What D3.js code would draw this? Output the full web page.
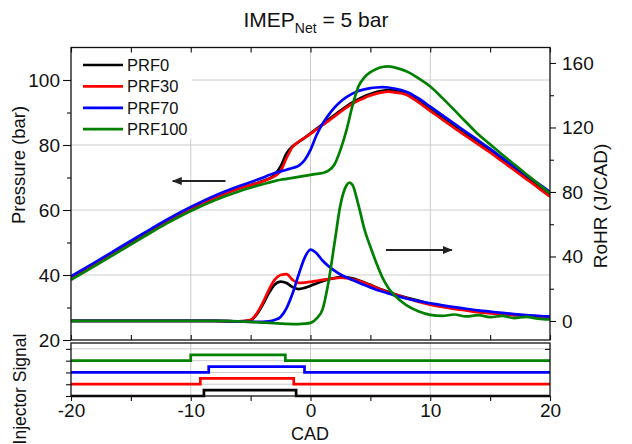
<!DOCTYPE html>
<html><head><meta charset="utf-8">
<script src="https://cdn.jsdelivr.net/npm/d3@7"></script>
<style>
body{margin:0;background:#fff;}
svg{display:block;font-family:"Liberation Sans",Arial,sans-serif;}
</style></head>
<body><svg id="c" width="632" height="444"></svg>
<script>
// ---------- DATA ----------
const seriesNames = ["PRF0","PRF30","PRF70","PRF100"];
const seriesColors = ["#000000","#ff0000","#0000ff","#008000"];

// Pressure (bar) vs CAD
const cadP = [-20,-18,-16,-14,-12,-10,-8,-6,-4,-3,-2.5,-2,-1.5,-1,-0.5,0,0.5,1,1.5,2,2.5,3,3.5,4,4.5,5,5.5,6,6.5,7,8,9,10,11,12,13,14,15,16,17,18,19,20];
const pressPRF0   = [39.2,43.5,47.9,52.3,56.6,60.4,63.8,66.6,68.9,70.8,73.4,77.4,79.6,80.9,82.2,83.6,85.0,86.4,87.8,89.2,90.6,91.9,93.1,94.1,95.0,95.7,96.3,96.7,96.9,96.7,95.8,93.6,90.9,88.3,85.7,83.1,80.6,78.1,75.4,72.7,70.0,67.3,64.5];
const pressPRF30  = [39.2,43.5,47.9,52.3,56.6,60.4,63.8,66.6,68.8,70.4,72.0,76.0,79.4,81.0,82.2,83.4,84.8,86.1,87.4,88.8,90.2,91.5,92.7,93.7,94.5,95.2,95.8,96.2,96.4,96.2,95.5,93.2,90.5,87.9,85.3,82.7,80.2,77.7,75.0,72.3,69.6,66.9,64.1];
const pressPRF70  = [39.6,43.9,48.3,52.7,57.0,60.9,64.4,67.3,69.9,71.4,71.9,72.4,72.9,73.6,75.3,78.5,83.0,86.5,89.2,91.5,93.3,94.7,95.8,96.6,97.1,97.5,97.7,97.8,97.7,97.4,96.4,94.4,91.8,89.2,86.6,84.0,81.4,78.8,76.1,73.4,70.8,68.2,65.6];
const pressPRF100 = [38.5,42.8,47.2,51.6,55.9,59.7,63.0,65.7,67.9,68.9,69.3,69.6,69.9,70.2,70.5,70.8,71.1,71.4,72.1,74.0,78.5,84.5,92.0,98.0,100.8,102.4,103.4,104.0,104.2,103.9,102.7,100.6,98.0,94.5,90.8,87.0,83.3,80.2,77.1,74.1,71.1,68.1,65.1];

// Rate of heat release (J/CAD) vs CAD
const cadR = [-20,-15,-10,-8,-6,-5,-4.5,-4,-3.5,-3,-2.5,-2,-1.5,-1,-0.5,0,0.5,1,1.5,2,2.5,3,3.25,3.5,4,4.5,5,5.5,6,6.5,7,8,9,10,11,12,13,14,15,16,17,18,19,20];
const rohrPRF0   = [0,0,0,0,-0.3,0.5,4,10,17,22.5,24.4,23.5,21,19.8,20.5,21.8,23.3,24.6,25.7,26.6,27.2,27.1,26.8,26.4,25.3,23.9,22.4,20.8,19.3,17.9,16.7,14.6,12.6,10.6,9.1,7.9,6.8,5.8,5.0,4.4,3.8,3.3,2.8,2.4];
const rohrPRF30  = [0,0,0,0,-0.3,0.6,4.5,11,19,25.5,28.5,29,25.5,23.6,23.8,24.3,24.9,25.5,26.0,26.5,26.8,26.6,26.3,25.9,24.9,23.6,22.2,20.6,19.1,17.7,16.5,14.2,12.0,10.1,8.7,7.5,6.5,5.5,4.8,4.2,3.6,3.1,2.7,2.3];
const rohrPRF70  = [0,0,0,0,-0.3,-0.5,-0.6,-0.6,-0.3,0.6,2.5,8,17,28.5,39,44.3,42,37.5,34,31.2,28.8,27,26.2,25.4,23.8,22.3,20.8,19.4,18.3,17.1,15.9,13.9,12.3,11.0,9.7,8.6,7.6,6.6,5.8,5.0,4.3,3.7,3.2,2.7];
const rohrPRF100 = [0,0,0,0,-0.3,-0.6,-0.8,-1,-1.2,-1.4,-1.6,-1.8,-1.9,-1.9,-1.7,-1.2,1.5,7,24,48,72,84,85.8,84.5,72,57,46,36,27,20.5,16,9.8,6.0,3.8,3.1,4.0,2.8,3.6,2.4,3.2,1.8,2.6,1.4,0.9];

// Injector signal: start/end of the pulse (CAD) and channel baseline level
const injStart = [-8.9,-9.2,-8.5,-10.0];
const injEnd   = [-1.2,-1.4,-0.5,-2.1];
const injLevel = [0,1,2,3];
const injHigh  = 0.5;

// Axis ticks
const xTicks = [-20,-10,0,10,20];
const xMinor = [-15,-5,5,15];
const pTicks = [20,40,60,80,100];
const pMinor = [30,50,70,90];
const rTicks = [0,40,80,120,160];
const rMinor = [20,60,100,140];

// ---------- DRAW ----------
const svg = d3.select("#c");
const L=71, R=550, T=47.5, B=340, T2=343, B2=396;
const x  = d3.scaleLinear([-20,20],[L,R]);
const yP = d3.scaleLinear([20,110],[B,T]);
const yR = d3.scaleLinear([-11.8,169.6],[B,T]);
const yI = d3.scaleLinear([0,4.5],[B2,T2]);
const grid = "#cccccc";

// gridlines
const g0 = svg.append("g").attr("stroke",grid).attr("stroke-width",1);
[40,60,80,100].forEach(v=>g0.append("line").attr("x1",L).attr("x2",R).attr("y1",yP(v)).attr("y2",yP(v)));
[-10,0,10].forEach(v=>{
  g0.append("line").attr("x1",x(v)).attr("x2",x(v)).attr("y1",T).attr("y2",B);
  g0.append("line").attr("x1",x(v)).attr("x2",x(v)).attr("y1",T2).attr("y2",B2);
});
[1,2,3,4].forEach(v=>g0.append("line").attr("x1",L).attr("x2",R).attr("y1",yI(v)).attr("y2",yI(v)));

// clip
svg.append("clipPath").attr("id","clipTop").append("rect").attr("x",L).attr("y",T).attr("width",R-L).attr("height",B-T);

const pressData = [pressPRF0,pressPRF30,pressPRF70,pressPRF100];
const rohrData  = [rohrPRF0,rohrPRF30,rohrPRF70,rohrPRF100];
const lineP = d3.line().x(d=>x(d[0])).y(d=>yP(d[1])).curve(d3.curveMonotoneX);
const lineR = d3.line().x(d=>x(d[0])).y(d=>yR(d[1])).curve(d3.curveMonotoneX);
const plot = svg.append("g").attr("clip-path","url(#clipTop)");
for (let i=0;i<4;i++){
  plot.append("path").datum(cadP.map((c,k)=>[c,pressData[i][k]]))
    .attr("d",lineP).attr("fill","none").attr("stroke",seriesColors[i]).attr("stroke-width",2.7).attr("stroke-linejoin","round");
}
for (let i=0;i<4;i++){
  plot.append("path").datum(cadR.map((c,k)=>[c,rohrData[i][k]]))
    .attr("d",lineR).attr("fill","none").attr("stroke",seriesColors[i]).attr("stroke-width",2.7).attr("stroke-linejoin","round");
}

// arrows
const defs = svg.append("defs");
defs.append("marker").attr("id","ah").attr("viewBox","0 0 10 10").attr("refX",9).attr("refY",5)
  .attr("markerWidth",5).attr("markerHeight",5).attr("orient","auto")
  .append("path").attr("d","M0,1 L10,5 L0,9 Z").attr("fill","#222");
svg.append("line").attr("x1",x(-7.1)).attr("x2",x(-11.5)).attr("y1",yP(68.9)).attr("y2",yP(68.9))
  .attr("stroke","#222").attr("stroke-width",2).attr("marker-end","url(#ah)");
svg.append("line").attr("x1",x(6.3)).attr("x2",x(11.8)).attr("y1",yR(44)).attr("y2",yR(44))
  .attr("stroke","#222").attr("stroke-width",2).attr("marker-end","url(#ah)");

// injector signal
const lineI = d3.line().x(d=>x(d[0])).y(d=>yI(d[1]));
for (let i=0;i<4;i++){
  const lo=injLevel[i], hi=injLevel[i]+injHigh;
  const pts=[[-20,lo],[injStart[i],lo],[injStart[i],hi],[injEnd[i],hi],[injEnd[i],lo],[20,lo]];
  svg.append("path").datum(pts).attr("d",lineI).attr("fill","none").attr("stroke",seriesColors[i]).attr("stroke-width",2.7);
}

// legend (white box)
svg.append("rect").attr("x",L+1).attr("y",T+1).attr("width",120).attr("height",90).attr("fill","#fff");
const lg = svg.append("g");
seriesNames.forEach((n,i)=>{
  const yy = 65 + i*21.4;
  lg.append("line").attr("x1",83).attr("x2",123).attr("y1",yy).attr("y2",yy).attr("stroke",seriesColors[i]).attr("stroke-width",2.7);
  lg.append("text").attr("x",127).attr("y",yy+6).attr("font-size",16.5).attr("fill","#111").text(n);
});

// frames
svg.append("rect").attr("x",L).attr("y",T).attr("width",R-L).attr("height",B-T).attr("fill","none").attr("stroke","#111").attr("stroke-width",1.3);
svg.append("rect").attr("x",L).attr("y",T2).attr("width",R-L).attr("height",B2-T2).attr("fill","none").attr("stroke","#111").attr("stroke-width",1.3);

function style(g, fs){
  g.select(".domain").remove();
  g.selectAll("line").attr("stroke","#111").attr("stroke-width",1.1);
  g.selectAll("text").attr("font-size",fs).attr("fill","#111").attr("font-family","Liberation Sans, Arial, sans-serif");
}
// left pressure axis
svg.append("g").attr("transform",`translate(${L},0)`).call(d3.axisLeft(yP).tickValues(pTicks).tickSize(8).tickPadding(3)).call(g=>style(g,19));
svg.append("g").attr("transform",`translate(${L},0)`).call(d3.axisLeft(yP).tickValues(pMinor).tickSize(4).tickFormat("")).call(g=>style(g,19));
// right RoHR axis
svg.append("g").attr("transform",`translate(${R},0)`).call(d3.axisRight(yR).tickValues(rTicks).tickSize(6).tickPadding(6)).call(g=>style(g,19));
svg.append("g").attr("transform",`translate(${R},0)`).call(d3.axisRight(yR).tickValues(rMinor).tickSize(4).tickFormat("")).call(g=>style(g,19));
// top panel inner ticks (top and bottom)
svg.append("g").attr("transform",`translate(0,${T})`).call(d3.axisBottom(x).tickValues(xTicks.concat(xMinor)).tickSize(5).tickFormat("")).call(g=>style(g,19));
svg.append("g").attr("transform",`translate(0,${B})`).call(d3.axisTop(x).tickValues(xTicks.concat(xMinor)).tickSize(5).tickFormat("")).call(g=>style(g,19));
// lower panel axes
svg.append("g").attr("transform",`translate(0,${B2})`).call(d3.axisBottom(x).tickValues(xTicks).tickSize(5).tickPadding(2.5).tickFormat(d3.format("d"))).call(g=>style(g,19));
svg.append("g").attr("transform",`translate(0,${B2})`).call(d3.axisBottom(x).tickValues(xMinor).tickSize(5).tickFormat("")).call(g=>style(g,19));
svg.append("g").attr("transform",`translate(${L},0)`).call(d3.axisLeft(yI).tickValues([0,1,2,3,4]).tickSize(5).tickFormat("")).call(g=>style(g,19));
svg.append("g").attr("transform",`translate(${R},0)`).call(d3.axisLeft(yI).tickValues([4]).tickSize(5).tickFormat("")).call(g=>style(g,19));

// hyphen minus like reference
svg.selectAll("text").each(function(){ const t=d3.select(this); t.text(t.text().replace("\u2212","-")); });

// titles
const title = svg.append("text").attr("x",316).attr("y",27).attr("text-anchor","middle").attr("font-size",21).attr("fill","#111");
title.append("tspan").text("IMEP");
title.append("tspan").attr("font-size",14).attr("dy",6).text("Net");
title.append("tspan").attr("dy",-6).text(" = 5 bar");

svg.append("text").attr("x",310).attr("y",440).attr("text-anchor","middle").attr("font-size",18).attr("fill","#111").text("CAD");
svg.append("text").attr("transform","translate(25,165) rotate(-90)").attr("text-anchor","middle").attr("font-size",18.5).attr("fill","#111").text("Pressure (bar)");
svg.append("text").attr("transform","translate(607,206) rotate(-90)").attr("text-anchor","middle").attr("font-size",19).attr("fill","#111").text("RoHR (J/CAD)");
svg.append("text").attr("transform","translate(26,389) rotate(-90)").attr("text-anchor","middle").attr("font-size",17.5).attr("fill","#111").text("Injector Signal");
</script></body></html>
